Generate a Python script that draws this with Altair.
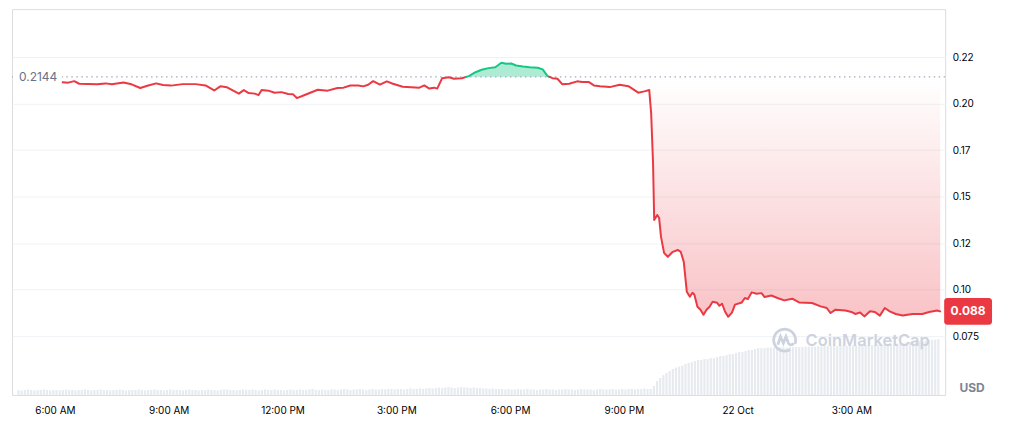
import math
import altair as alt
import pandas as pd

# ---------------- data ----------------
REF_PRICE = 0.2144  # opening price, dotted reference line

# hours since 21 Oct 00:00
hours = [5.00, 5.67, 6.35, 6.51, 6.64, 7.11, 7.34, 7.50, 7.81, 8.02,
         8.25, 8.46, 8.67, 8.85, 9.06, 9.37, 9.71, 9.97, 10.20, 10.36,
         10.54, 10.85, 10.98, 11.11, 11.27, 11.37, 11.45, 11.63, 11.79, 11.97,
         12.15, 12.28, 12.38, 12.57, 12.93, 13.19, 13.45, 13.61, 13.79, 14.00,
         14.13, 14.26, 14.39, 14.57, 14.75, 14.91, 15.17, 15.61, 15.74, 15.87,
         16.00, 16.08, 16.21, 16.39, 16.52, 16.73, 16.91, 17.09, 17.25, 17.43,
         17.61, 17.77, 17.90, 18.03, 18.16, 18.34, 18.52, 18.73, 18.86, 18.99,
         19.12, 19.25, 19.38, 19.56, 19.77, 19.90, 20.08, 20.21, 20.37, 20.63,
         20.89, 21.12, 21.38, 21.54, 21.67, 21.72, 21.77, 21.80, 21.88, 21.93,
         21.98, 22.06, 22.16, 22.29, 22.42, 22.50, 22.58, 22.66, 22.74, 22.81,
         22.86, 22.94, 23.02, 23.10, 23.18, 23.26, 23.34, 23.46, 23.52, 23.59,
         23.67, 23.75, 23.85, 23.93, 24.11, 24.19, 24.27, 24.37, 24.50, 24.63,
         24.71, 24.89, 25.05, 25.23, 25.44, 25.62, 25.96, 26.19, 26.35, 26.45,
         26.58, 26.84, 27.00, 27.10, 27.23, 27.34, 27.49, 27.62, 27.75, 27.88,
         28.01, 28.17, 28.35, 28.61, 28.87, 29.05, 29.26, 29.34]

prices = [0.2144, 0.2125, 0.2113, 0.2121, 0.2107, 0.2104, 0.2109, 0.2104, 0.2114, 0.2104,
          0.2084, 0.2098, 0.2109, 0.2100, 0.2097, 0.2105, 0.2105, 0.2098, 0.2071, 0.2093,
          0.2088, 0.2054, 0.2073, 0.2057, 0.2054, 0.2046, 0.2073, 0.2070, 0.2059, 0.2062,
          0.2052, 0.2050, 0.2030, 0.2045, 0.2075, 0.2070, 0.2084, 0.2086, 0.2098, 0.2098,
          0.2093, 0.2102, 0.2121, 0.2102, 0.2120, 0.2107, 0.2091, 0.2086, 0.2098, 0.2081,
          0.2086, 0.2081, 0.2137, 0.2142, 0.2134, 0.2137, 0.2148, 0.2169, 0.2182, 0.2191,
          0.2196, 0.2220, 0.2214, 0.2216, 0.2205, 0.2200, 0.2196, 0.2193, 0.2184, 0.2148,
          0.2137, 0.2134, 0.2104, 0.2107, 0.2120, 0.2116, 0.2116, 0.2098, 0.2094, 0.2089,
          0.2102, 0.2094, 0.2059, 0.2066, 0.2073, 0.1948, 0.1680, 0.1375, 0.1402, 0.1386,
          0.1284, 0.1198, 0.1177, 0.1204, 0.1214, 0.1204, 0.1150, 0.0989, 0.0963, 0.0984,
          0.0973, 0.0909, 0.0893, 0.0866, 0.0893, 0.0909, 0.0936, 0.0930, 0.0914, 0.0925,
          0.0882, 0.0855, 0.0877, 0.0920, 0.0932, 0.0956, 0.0950, 0.0986, 0.0979, 0.0982,
          0.0961, 0.0969, 0.0956, 0.0943, 0.0952, 0.0932, 0.0929, 0.0911, 0.0902, 0.0875,
          0.0893, 0.0889, 0.0881, 0.0870, 0.0878, 0.0857, 0.0884, 0.0881, 0.0861, 0.0902,
          0.0884, 0.0870, 0.0862, 0.0870, 0.0870, 0.0881, 0.0889, 0.0884]

# 5-minute volume bars starting 05:00 (relative units)
VOL_START_HOUR = 5.0
volume = [10, 9, 10, 11, 10, 9, 10, 10, 11, 10, 9, 10, 10, 9, 10, 11, 10, 10, 9, 10,
          10, 11, 10, 9, 10, 10, 11, 10, 10, 9, 10, 10, 11, 10, 9, 10, 10, 10, 11, 10,
          9, 10, 10, 11, 10, 10, 9, 10, 11, 10, 10, 10, 9, 10, 11, 10, 10, 9, 10, 10,
          11, 10, 10, 9, 10, 11, 11, 10, 10, 9, 10, 11, 10, 10, 11, 10, 9, 10, 11, 10,
          10, 11, 10, 10, 9, 10, 11, 10, 10, 11, 10, 10, 11, 12, 10, 10, 11, 10, 10, 11,
          11, 10, 11, 12, 11, 10, 11, 11, 12, 11, 10, 11, 12, 11, 11, 12, 11, 12, 12, 11,
          12, 12, 11, 12, 13, 12, 12, 13, 12, 13, 14, 13, 14, 15, 14, 15, 16, 15, 14, 15,
          16, 15, 15, 14, 15, 14, 14, 13, 13, 12, 13, 12, 12, 12, 11, 12, 11, 11, 12, 11,
          11, 12, 11, 11, 10, 11, 11, 12, 11, 11, 10, 11, 11, 12, 11, 11, 10, 11, 12, 11,
          11, 11, 10, 11, 12, 11, 11, 11, 12, 11, 11, 12, 11, 12, 12, 11, 12, 12, 13, 12,
          12, 18, 28, 34, 40, 44, 48, 52, 55, 57, 59, 62, 64, 66, 68, 70, 70, 72, 72, 74,
          74, 76, 78, 78, 80, 82, 82, 84, 86, 86, 88, 90, 90, 92, 94, 94, 94, 95, 95, 95,
          95, 96, 96, 95, 96, 96, 96, 96, 96, 97, 97, 97, 97, 98, 97, 98, 98, 98, 98, 98,
          99, 99, 98, 99, 99, 99, 100, 100, 99, 100, 100, 100, 101, 101, 102, 102, 102, 103, 103, 104,
          104, 105, 106, 106, 107, 108, 108, 109, 110, 110, 111, 112]

x_tick_hours = [6, 9, 12, 15, 18, 21, 24, 27]
y_tick_values = [0.075, 0.1, 0.125, 0.15, 0.175, 0.2, 0.225]

# ---------------- layout / style ----------------
W, H = 936, 387
X_DOMAIN = [5.0, 29.34]
Y_DOMAIN = [0.04348, 0.25080]
VOL_DOMAIN = [0, 774]
RED = "#ea3943"
GREEN = "#16c784"
LABEL = "#7b8498"

# ---------------- derived tables ----------------
aug = []
for i, (t, p) in enumerate(zip(hours, prices)):
    if i > 0:
        t0, p0 = hours[i - 1], prices[i - 1]
        if (p0 - REF_PRICE) * (p - REF_PRICE) < 0:
            f = (REF_PRICE - p0) / (p - p0)
            aug.append((t0 + f * (t - t0), REF_PRICE))
    aug.append((t, p))

line_rows = []
run = 0
prev_side = None
for j in range(len(aug) - 1):
    (ta, pa), (tb, pb) = aug[j], aug[j + 1]
    side = "up" if (pa + pb) / 2 > REF_PRICE else "down"
    if side != prev_side:
        run += 1
        line_rows.append(dict(t=ta, price=pa, side=side, run=run))
        prev_side = side
    line_rows.append(dict(t=tb, price=pb, side=side, run=run))
line_df = pd.DataFrame(line_rows)

down_df = pd.DataFrame({
    "t": [a[0] for a in aug],
    "lo": [min(a[1], REF_PRICE) for a in aug],
    "ref": REF_PRICE,
})
up_pts = [a for a in aug if a[1] >= REF_PRICE and a[0] > 16.5 and a[0] < 19.2]
up_df = pd.DataFrame({
    "t": [a[0] for a in up_pts],
    "hi": [a[1] for a in up_pts],
    "ref": REF_PRICE,
})
ref_df = pd.DataFrame({"ref": [REF_PRICE]})
last_df = pd.DataFrame({"price": [prices[-1]]})
vol_df = pd.DataFrame({
    "t": [VOL_START_HOUR + (i + 0.5) / 12 for i in range(len(volume))],
    "vol": volume,
})
one = pd.DataFrame({"usd": ["USD"], "wm": ["CoinMarketCap"]})

# ---------------- scales / axes ----------------
xs = alt.Scale(domain=X_DOMAIN, nice=False, zero=False)
ys = alt.Scale(domain=Y_DOMAIN, nice=False, zero=False)
x_axis = alt.Axis(
    values=x_tick_hours,
    labelExpr="datum.value % 24 == 0 ? '22 Oct' : ((datum.value % 12 == 0 ? 12 : datum.value % 12) + ':00 ' + (datum.value % 24 < 12 ? 'AM' : 'PM'))",
    grid=False, domain=False, ticks=False, tickSize=0, labelPadding=11,
    labelFlush=False, title=None,
)
y_axis = alt.Axis(
    orient="right", values=y_tick_values,
    labelExpr="datum.value < 0.0999 ? format(datum.value, '.3f') : format(floor(datum.value * 100 + 0.000001) / 100, '.2f')",
    grid=True, gridColor="#eff2f5", domain=False, ticks=False, tickSize=0,
    labelPadding=7, title=None,
)
X = alt.X("t:Q", scale=xs, axis=x_axis)

# ---------------- layers ----------------
vol_layer = alt.Chart(vol_df).mark_bar(color="#e7eaef", width=2.2).encode(
    x=X,
    y=alt.Y("vol:Q", scale=alt.Scale(domain=VOL_DOMAIN, nice=False), axis=None),
)

area_down = alt.Chart(down_df).mark_area(
    color=alt.Gradient(
        gradient="linear",
        stops=[alt.GradientStop(color="rgba(234,57,67,0.0)", offset=0),
               alt.GradientStop(color="rgba(234,57,67,0.30)", offset=1)],
        x1=1, x2=1, y1=0, y2=1),
).encode(x=X, y=alt.Y("lo:Q", scale=ys, axis=y_axis), y2="ref:Q")

area_up = alt.Chart(up_df).mark_area(
    color="#16c784", opacity=0.35,
).encode(x=X, y=alt.Y("hi:Q", scale=ys, axis=y_axis), y2="ref:Q")

ref_rule = alt.Chart(ref_df).mark_rule(
    color="#a3aabb", strokeDash=[1.5, 3.5], strokeWidth=1.2
).encode(y=alt.Y("ref:Q", scale=ys, axis=y_axis))

price_line = alt.Chart(line_df).mark_line(
    strokeWidth=2, strokeJoin="round", strokeCap="round"
).encode(
    x=X,
    y=alt.Y("price:Q", scale=ys, axis=y_axis),
    color=alt.Color("side:N", scale=alt.Scale(domain=["up", "down"], range=[GREEN, RED]), legend=None),
    detail="run:N",
    order="t:Q",
)

label_box = alt.Chart(ref_df).mark_rect(color="white", yOffset=-8, y2Offset=8).encode(
    x=alt.value(2), x2=alt.value(50),
    y=alt.Y("ref:Q", scale=ys, axis=y_axis), y2="ref:Q",
)
ref_label = alt.Chart(ref_df).mark_text(
    align="left", baseline="middle", fontSize=12, color="#6a7285", font="Inter"
).encode(
    x=alt.value(7), y=alt.Y("ref:Q", scale=ys, axis=y_axis),
    text=alt.Text("ref:Q", format=".4f"),
)

tag_rect = alt.Chart(last_df).mark_rect(
    color=RED, cornerRadius=3, yOffset=-13.5, y2Offset=13.5
).encode(
    x=alt.value(935), x2=alt.value(983),
    y=alt.Y("price:Q", scale=ys, axis=y_axis), y2="price:Q",
)
tag_text = alt.Chart(last_df).mark_text(
    align="center", baseline="middle", fontSize=12, fontWeight="bold", color="white", font="Inter"
).encode(
    x=alt.value(959), y=alt.Y("price:Q", scale=ys, axis=y_axis),
    text=alt.Text("price:Q", format=".3f"),
)

usd_text = alt.Chart(one).mark_text(
    align="center", baseline="middle", fontSize=12, fontWeight="bold", color=LABEL, font="Inter"
).encode(x=alt.value(963), y=alt.value(380), text="usd:N")

# watermark logo: open ring + wave
ring_pts = []
for a in range(60, 385, 10):
    r = math.radians(a)
    ring_pts.append(f"{math.cos(r):.3f},{math.sin(r):.3f}")
logo_path = ("M" + " L".join(ring_pts) +
             " M-0.62,0.42 L-0.38,-0.32 L-0.12,0.28 L0.12,-0.32 L0.34,0.26 Q0.5,0.6 0.82,0.3")
wm_logo = alt.Chart(one).mark_point(
    shape=logo_path, filled=False, size=484, strokeWidth=2.8, color="#cdd3de", opacity=1
).encode(x=alt.value(775), y=alt.value(332))
wm_text = alt.Chart(one).mark_text(
    align="left", baseline="middle", fontSize=16.5, fontWeight=600, color="#cdd3de", font="Inter"
).encode(x=alt.value(796), y=alt.value(333), text="wm:N")

price_layers = alt.layer(
    area_down, area_up, ref_rule, price_line, label_box, ref_label,
    tag_rect, tag_text, usd_text, wm_logo, wm_text,
)

chart = alt.layer(vol_layer, price_layers).resolve_scale(y="independent").properties(
    width=W, height=H,
    autosize=alt.AutoSizeParams(type="none"),
    padding={"left": 4, "top": 0.5, "right": 56, "bottom": 30},
    background="white",
).configure_view(
    stroke="#eceff3", strokeWidth=1
).configure_axis(
    labelFont="Inter", labelFontSize=12, labelColor=LABEL
).configure(font="Inter")

chart.save("out.html", embed_options={"renderer": "svg", "actions": False})
